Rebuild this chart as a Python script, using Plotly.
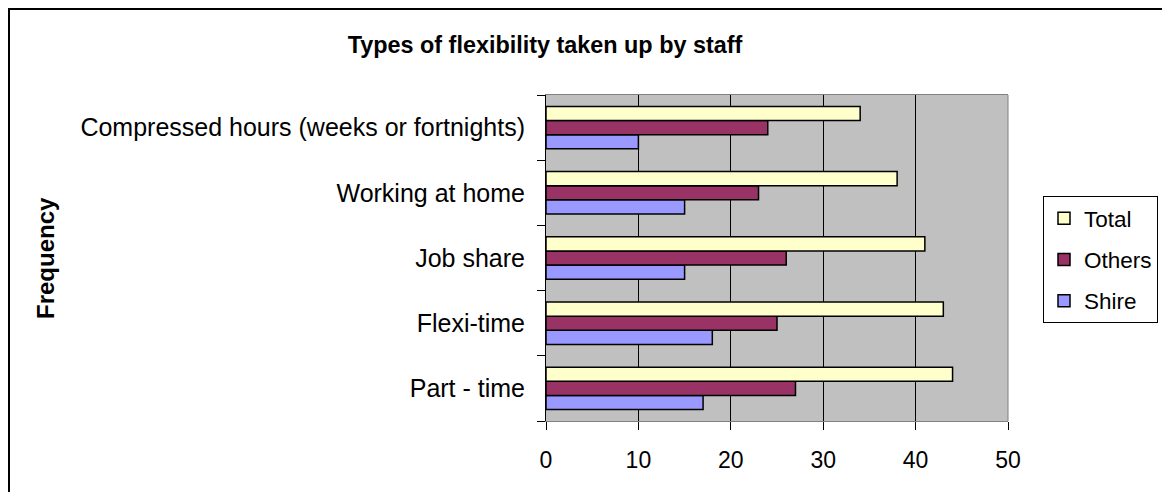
import plotly.graph_objects as go

categories = ["Part - time", "Flexi-time", "Job share", "Working at home",
              "Compressed hours (weeks or fortnights)"]
shire = [17, 18, 15, 15, 10]
others = [27, 25, 26, 23, 24]
total = [44, 43, 41, 38, 34]

W, H = 1162, 492
L, R, T, B = 546, 1008, 95, 421

def px(x):
    return (x - L) / (R - L)

def py(y):
    return (B - y) / (B - T)

FONT = "Liberation Sans, Arial, sans-serif"

fig = go.Figure()
for name, vals, col, grp, rank in [("Shire", shire, "#9999FF", "c", 3),
                                   ("Others", others, "#993366", "b", 2),
                                   ("Total", total, "#FFFFCC", "a", 1)]:
    fig.add_trace(go.Bar(
        y=categories, x=vals, name=name, orientation="h",
        marker=dict(color=col, line=dict(color="black", width=1.5)),
        legendgroup=grp, legendrank=rank,
    ))

fig.update_layout(
    width=W, height=H,
    margin=dict(l=L, r=W - R, t=T, b=H - B, autoexpand=False),
    paper_bgcolor="white",
    plot_bgcolor="#C0C0C0",
    barmode="group",
    bargap=0.35,
    bargroupgap=0,
    font=dict(family=FONT, size=23, color="black"),
    title=dict(text="<b>Types of flexibility taken up by staff</b>",
               x=545 / W, xref="container", xanchor="center",
               y=1 - 45 / H, yref="container", yanchor="middle",
               font=dict(size=23.4, family=FONT, color="black")),
    showlegend=True,
    legend=dict(x=px(1043), y=py(196), xanchor="left", yanchor="top",
                bordercolor="black", borderwidth=1, bgcolor="white",
                traceorder="grouped", tracegroupgap=9,
                font=dict(size=22.5, family=FONT)),
    xaxis=dict(range=[0, 50], dtick=10, tick0=0, showgrid=True,
               gridcolor="black", gridwidth=1, zeroline=False,
               showline=True, linecolor="#808080", linewidth=1, mirror=True,
               ticks="outside", ticklen=8, tickcolor="black",
               ticklabelstandoff=10,
               tickfont=dict(size=23, family=FONT)),
    yaxis=dict(type="category", categoryorder="array", categoryarray=categories,
               showline=True, linecolor="black", linewidth=1,
               ticks="outside", ticklen=8, tickcolor="black",
               tickson="boundaries", ticklabelstandoff=15,
               showgrid=False, zeroline=False,
               tickfont=dict(size=25, family=FONT)),
    annotations=[dict(text="<b>Frequency</b>", textangle=-90,
                      xref="paper", yref="paper", x=px(45), y=0.5,
                      xanchor="center", yanchor="middle", showarrow=False,
                      font=dict(size=24, family=FONT, color="black"))],
    shapes=[
        dict(type="rect", xref="paper", yref="paper",
             x0=px(9), x1=px(1180), y0=py(9), y1=py(510),
             line=dict(color="black", width=2), fillcolor="rgba(0,0,0,0)",
             layer="above"),
        dict(type="line", xref="paper", yref="paper", x0=1, x1=1, y0=0, y1=1,
             line=dict(color="#808080", width=1), layer="above"),
    ],
)

fig.write_html("out.html")
